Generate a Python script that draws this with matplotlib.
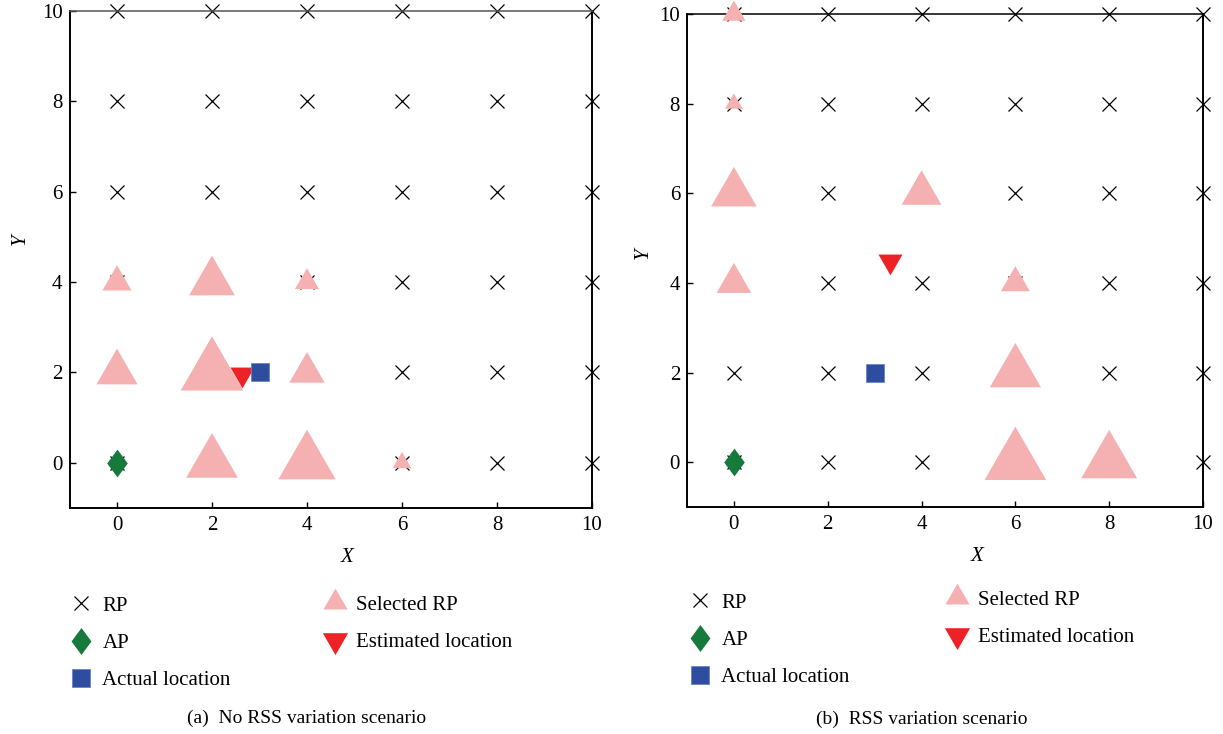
import numpy as np
import matplotlib
matplotlib.use("Agg")
import matplotlib.pyplot as plt
from matplotlib.lines import Line2D

plt.rcParams['font.family'] = ['Liberation Serif', 'DejaVu Serif']

# reference point grid
rp_x = [0, 2, 4, 6, 8, 10]
rp_y = [0, 2, 4, 6, 8, 10]

ap = (0, 0)
actual = (3, 2)

# (a) no RSS variation
sel_a_x = [0, 2, 4, 0, 2, 4, 2, 4, 6]
sel_a_y = [4, 4, 4, 2, 2, 2, 0, 0, 0]
sel_a_w = [0.56, 0.88, 0.46, 0.79, 1.20, 0.68, 0.99, 1.10, 0.36]
est_a = (2.63, 1.96)

# (b) RSS variation
sel_b_x = [0, 0, 0, 4, 0, 6, 6, 6, 8]
sel_b_y = [10, 8, 6, 6, 4, 4, 2, 0, 0]
sel_b_w = [0.45, 0.34, 0.88, 0.77, 0.67, 0.56, 0.99, 1.19, 1.08]
est_b = (3.32, 4.48)

pink = '#F5B0B1'
red = '#EC2227'
blue = '#2E4D9F'
green = '#167A3C'

tri_up = [(0, 1), (-0.866, -0.5), (0.866, -0.5)]
tri_dn = [(0, -1), (0.866, 0.5), (-0.866, 0.5)]
diamond = [(0, 1), (0.74, 0), (0, -1), (-0.74, 0)]

W, H = 1223, 734
fig = plt.figure(figsize=(W / 100, H / 100), dpi=100)


def px_axes(l, t, r, b):
    return fig.add_axes([l / W, 1 - b / H, (r - l) / W, (b - t) / H])


def draw_panel(ax, sel_x, sel_y, sel_w, est):
    gx, gy = np.meshgrid(rp_x, rp_y)
    ax.plot(gx.ravel(), gy.ravel(), ls='none', marker='x', ms=10, mew=0.9,
            color='black', zorder=2, clip_on=False)
    # triangle size in points from its height in y units
    pts_per_unit = ax.get_position().height * fig.get_figheight() * 72 / 11
    ms = np.array(sel_w) * pts_per_unit / 0.75
    ax.scatter(sel_x, sel_y, s=ms ** 2, marker=tri_up, color=pink,
               linewidths=0, zorder=3, clip_on=False)
    ax.plot(*ap, ls='none', marker=diamond, ms=20, color=green, mew=0, zorder=4)
    ax.plot(*est, ls='none', marker=tri_dn, ms=20, color=red, mew=0, zorder=5)
    ax.plot(*actual, ls='none', marker='s', ms=13.5, color=blue,
            mec='#6C84C4', mew=0.6, zorder=5)

    ax.set_xlim(-1, 10)
    ax.set_ylim(-1, 10)
    ax.set_xticks(rp_x)
    ax.set_yticks(rp_y)
    ax.tick_params(direction='in', top=False, right=False, length=4, width=1,
                   labelsize=15)
    ax.tick_params(axis='x', pad=6)
    ax.tick_params(axis='y', pad=5)
    for s in ax.spines.values():
        s.set_linewidth(1.4)
    ax.spines['top'].set_linewidth(1.1)


def add_legend(ax, x0, y0, x1, y1):
    h1 = [Line2D([], [], ls='none', marker='x', ms=10, mew=0.9, color='black'),
          Line2D([], [], ls='none', marker=diamond, ms=19.4, mew=0, color=green),
          Line2D([], [], ls='none', marker='s', ms=13.5, color=blue,
                 mec='#6C84C4', mew=0.6)]
    h2 = [Line2D([], [], ls='none', marker=tri_up, ms=20, mew=0, color=pink),
          Line2D([], [], ls='none', marker=tri_dn, ms=21, mew=0, color=red)]
    kw = dict(frameon=False, fontsize=15, handlelength=1.25, handletextpad=0.4,
              labelspacing=0.85, borderpad=0, borderaxespad=0, loc='upper left',
              bbox_transform=fig.transFigure)
    leg1 = ax.legend(h1, ['RP', 'AP', 'Actual location'],
                     bbox_to_anchor=(x0 / W, 1 - y0 / H), **kw)
    ax.add_artist(leg1)
    ax.legend(h2, ['Selected RP', 'Estimated location'],
              bbox_to_anchor=(x1 / W, 1 - y1 / H), **kw)


ax_a = px_axes(69.5, 11, 592, 508)
draw_panel(ax_a, sel_a_x, sel_a_y, sel_a_w, est_a)
ax_a.spines['top'].set_color('#555555')
ax_a.text(0.531, -0.099, 'X', transform=ax_a.transAxes, fontsize=15,
          style='italic', ha='center', va='center')
ax_a.text(-0.095, 0.54, 'Y', transform=ax_a.transAxes, fontsize=15,
          style='italic', ha='center', va='center', rotation=90)
add_legend(ax_a, 68, 596, 322, 595)
fig.text(307 / W, 1 - 718 / H, '(a)  No RSS variation scenario', fontsize=14,
         ha='center', va='center')

ax_b = px_axes(687, 14, 1203, 507)
draw_panel(ax_b, sel_b_x, sel_b_y, sel_b_w, est_b)
ax_b.text(0.562, -0.1, 'X', transform=ax_b.transAxes, fontsize=15,
          style='italic', ha='center', va='center')
ax_b.text(-0.085, 0.515, 'Y', transform=ax_b.transAxes, fontsize=15,
          style='italic', ha='center', va='center', rotation=90)
add_legend(ax_b, 687, 593, 944, 590)
fig.text(922 / W, 1 - 719 / H, '(b)  RSS variation scenario', fontsize=14,
         ha='center', va='center')

fig.savefig('out.png', dpi=100)
